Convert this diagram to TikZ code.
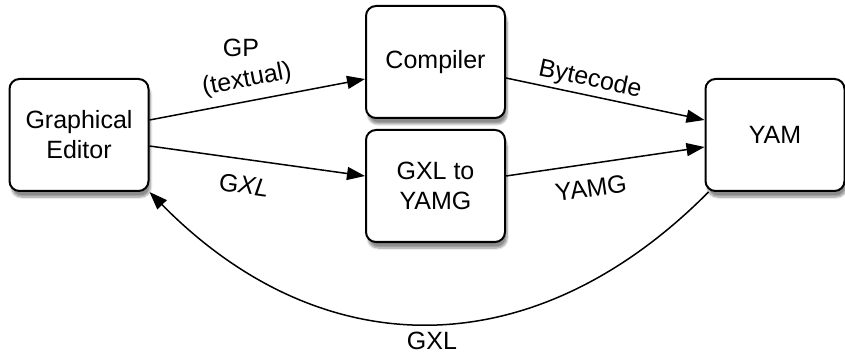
\documentclass[tikz,border=0pt]{standalone}
\usepackage{fontspec}
\setmainfont{Liberation Sans}
\usetikzlibrary{arrows.meta,shadows.blur}
\begin{document}
\begin{tikzpicture}[x=1pt,y=-1pt,
  box/.style={draw, line width=2pt, rounded corners=10pt, fill=white,
    minimum width=139pt, minimum height=112pt, align=center,
    font=\fontsize{25}{30}\selectfont,
    blur shadow={shadow xshift=2pt, shadow yshift=-6pt, shadow blur steps=8, shadow opacity=45}},
  conn/.style={line width=1.5pt, -{Triangle[length=18pt,width=13pt]}},
  lbl/.style={font=\fontsize{25}{30}\selectfont, inner sep=0pt}]
\useasboundingbox (0,0) rectangle (845,355);

\node[box] (ge) at (79,135) {Graphical\\Editor};
\node[box] (comp) at (435.5,62) {Compiler};
\node[box] (gxl) at (435.5,186) {GXL to\\YAMG};
\node[box] (yam) at (775,135) {YAM};

\draw[conn] ([yshift=15pt]ge.east) -- ([yshift=-17pt]comp.west);
\draw[conn] ([yshift=-11pt]ge.east) -- ([yshift=10pt]gxl.west);
\draw[conn] ([yshift=-16pt]comp.east) -- ([yshift=15pt]yam.west);
\draw[conn] ([yshift=10pt]gxl.east) -- ([yshift=-12pt]yam.west);
\draw[conn] ([xshift=4pt]yam.south west) .. controls (535,367) and (323,368) .. (ge.south east);

\node[lbl] (l1) at (241,48) {GP};
\node[lbl, rotate=11] (l2) at (247,80) {(textual)};
\node[lbl, rotate=-8] (l3) at (244,185) {G\textit{XL}};
\node[lbl, rotate=-12] (l4) at (590,80) {Bytecode};
\node[lbl, rotate=8] (l5) at (591,188) {YAMG};
\node[lbl] (l6) at (432,341) {GXL};
\end{tikzpicture}
\end{document}
